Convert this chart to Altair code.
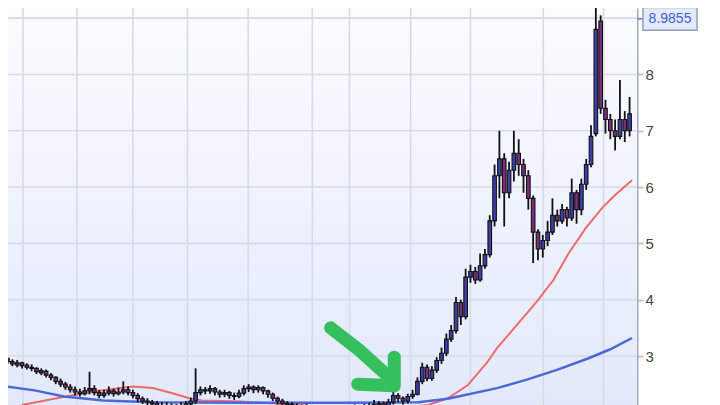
import altair as alt
import pandas as pd

# ---------------- data ----------------
opens = [2.95, 2.90, 2.84, 2.88, 2.84, 2.80, 2.78, 2.70, 2.73, 2.66,
         2.62, 2.55, 2.50, 2.45, 2.40, 2.36, 2.33, 2.38, 2.42, 2.35,
         2.30, 2.34, 2.38, 2.33, 2.36, 2.40, 2.35, 2.30, 2.24, 2.20,
         2.18, 2.15, 2.12, 2.10, 2.12, 2.10, 2.08, 2.12, 2.15, 2.20,
         2.35, 2.40, 2.38, 2.42, 2.36, 2.32, 2.35, 2.30, 2.28, 2.34,
         2.42, 2.45, 2.40, 2.44, 2.38, 2.32, 2.25, 2.20, 2.16, 2.14,
         2.12, 2.10, 2.08, 2.10, 2.06, 2.08, 2.05, 2.07, 2.04, 2.06,
         2.05, 2.08, 2.06, 2.09, 2.07, 2.10, 2.12, 2.14, 2.15, 2.12,
         2.18, 2.30, 2.25, 2.20, 2.28, 2.32, 2.55, 2.80, 2.60, 2.75,
         2.92, 3.05, 3.30, 3.45, 3.95, 3.70, 4.40, 4.50, 4.35, 4.60,
         4.80, 5.40, 6.20, 6.50, 5.90, 6.30, 6.60, 6.40, 6.20, 5.80,
         5.20, 4.90, 5.05, 5.20, 5.50, 5.40, 5.60, 5.45, 5.90, 5.60,
         6.05, 6.40, 6.95, 8.95, 7.40, 7.20, 7.00, 6.90, 7.20, 7.00]
closes = [2.90, 2.86, 2.88, 2.83, 2.80, 2.78, 2.72, 2.74, 2.66, 2.62,
          2.55, 2.50, 2.45, 2.40, 2.36, 2.33, 2.38, 2.42, 2.35, 2.30,
          2.34, 2.38, 2.33, 2.36, 2.40, 2.35, 2.30, 2.24, 2.20, 2.18,
          2.15, 2.12, 2.10, 2.12, 2.10, 2.08, 2.12, 2.15, 2.20, 2.35,
          2.40, 2.38, 2.42, 2.36, 2.32, 2.35, 2.30, 2.28, 2.34, 2.42,
          2.45, 2.40, 2.44, 2.38, 2.32, 2.25, 2.20, 2.16, 2.14, 2.12,
          2.10, 2.08, 2.10, 2.06, 2.08, 2.05, 2.07, 2.04, 2.06, 2.05,
          2.08, 2.06, 2.09, 2.07, 2.10, 2.12, 2.14, 2.15, 2.12, 2.18,
          2.30, 2.25, 2.20, 2.28, 2.32, 2.55, 2.80, 2.60, 2.75, 2.92,
          3.05, 3.30, 3.45, 3.95, 3.70, 4.40, 4.50, 4.35, 4.60, 4.80,
          5.40, 6.20, 6.50, 5.90, 6.30, 6.60, 6.40, 6.20, 5.80, 5.20,
          4.90, 5.05, 5.20, 5.50, 5.40, 5.60, 5.45, 5.90, 5.60, 6.05,
          6.40, 6.90, 8.80, 7.40, 7.20, 7.00, 6.90, 7.20, 7.00, 7.30]
highs = [2.98, 2.94, 2.93, 2.90, 2.87, 2.85, 2.80, 2.78, 2.76, 2.70,
         2.64, 2.60, 2.54, 2.50, 2.46, 2.42, 2.45, 2.72, 2.48, 2.40,
         2.40, 2.46, 2.42, 2.44, 2.55, 2.46, 2.40, 2.34, 2.28, 2.25,
         2.22, 2.20, 2.18, 2.18, 2.16, 2.15, 2.18, 2.20, 2.26, 2.78,
         2.46, 2.45, 2.48, 2.45, 2.40, 2.40, 2.38, 2.35, 2.40, 2.48,
         2.50, 2.48, 2.48, 2.46, 2.40, 2.35, 2.28, 2.24, 2.20, 2.18,
         2.16, 2.14, 2.15, 2.13, 2.12, 2.11, 2.12, 2.10, 2.10, 2.11,
         2.12, 2.12, 2.14, 2.13, 2.15, 2.17, 2.22, 2.20, 2.19, 2.24,
         2.45, 2.34, 2.28, 2.33, 2.40, 2.62, 2.88, 2.85, 2.82, 2.98,
         3.15, 3.40, 3.55, 4.05, 4.00, 4.55, 4.62, 4.58, 4.82, 4.90,
         5.50, 6.40, 7.00, 6.60, 6.45, 7.00, 6.85, 6.50, 6.30, 5.85,
         5.25, 5.15, 5.40, 5.80, 5.60, 5.70, 5.65, 6.15, 5.95, 6.15,
         6.50, 7.10, 9.35, 9.05, 7.55, 7.30, 7.20, 7.90, 7.35, 7.60]
lows = [2.86, 2.82, 2.80, 2.78, 2.76, 2.73, 2.68, 2.66, 2.62, 2.57,
        2.50, 2.45, 2.40, 2.35, 2.30, 2.28, 2.30, 2.32, 2.30, 2.25,
        2.26, 2.30, 2.28, 2.30, 2.32, 2.30, 2.25, 2.18, 2.15, 2.12,
        2.10, 2.06, 2.04, 2.05, 2.04, 2.02, 2.04, 2.08, 2.10, 2.15,
        2.30, 2.32, 2.33, 2.30, 2.26, 2.27, 2.24, 2.22, 2.25, 2.30,
        2.36, 2.34, 2.35, 2.32, 2.26, 2.20, 2.14, 2.10, 2.08, 2.06,
        2.04, 2.02, 2.03, 2.00, 2.00, 1.98, 2.00, 1.98, 1.99, 2.00,
        2.01, 2.00, 2.02, 2.02, 2.03, 2.05, 2.07, 2.08, 2.06, 2.08,
        2.14, 2.18, 2.14, 2.16, 2.24, 2.30, 2.50, 2.55, 2.56, 2.70,
        2.86, 3.00, 3.25, 3.40, 3.55, 3.65, 4.30, 4.28, 4.32, 4.55,
        4.75, 5.30, 5.80, 5.30, 5.80, 6.10, 6.20, 5.90, 5.60, 4.65,
        4.70, 4.75, 4.95, 5.15, 5.30, 5.35, 5.30, 5.40, 5.35, 5.50,
        5.95, 6.35, 6.90, 7.30, 6.95, 6.85, 6.65, 6.85, 6.80, 6.90]

# moving averages (sampled points, bar-index units)
red_ma_x = [2.97, 13.2, 19.9, 26.0, 30.1, 34.2, 37.7, 40.3, 48.5, 54.6, 64.8,
            81.1, 87.3, 91.3, 95.4, 99.5, 101.5, 105.6, 109.7, 113.2, 116.4,
            119.9, 123.4, 126.0, 129.5]
red_ma_y = [2.13, 2.30, 2.39, 2.46, 2.43, 2.34, 2.25, 2.21, 2.19, 2.16, 2.10,
            2.08, 2.13, 2.25, 2.48, 2.89, 3.14, 3.55, 3.96, 4.35, 4.83,
            5.27, 5.64, 5.86, 6.12]
blue_ma_x = [-0.5, 5.6, 11.7, 19.9, 30.1, 50.5, 70.9, 85.2, 91.3, 101.5,
             107.7, 113.8, 120.5, 125.0, 129.5]
blue_ma_y = [2.46, 2.39, 2.28, 2.21, 2.18, 2.17, 2.17, 2.18, 2.24, 2.43,
             2.58, 2.75, 2.96, 3.12, 3.32]

# period separators (vertical grid) and price grid levels
vgrid_pos = [3.2, 14.4, 26.0, 37.3, 49.9, 63.2, 70.9, 83.6, 96.0, 111.1, 123.6]
price_levels = [3, 4, 5, 6, 7, 8, 9]

# hand-drawn green arrow annotation
arrow_seg = ["shaft", "shaft", "shaft", "head", "head", "head"]
arrow_x = [67.0, 73.0, 78.9, 72.6, 80.2, 80.2]
arrow_y = [3.50, 3.10, 2.64, 2.50, 2.47, 2.98]

last_label_value = [8.9855]
last_label_text = ["8.9855"]

# ---------------- chart ----------------
W, H = 629, 397
xs = alt.Scale(domain=[1.13, 129.5], nice=False, zero=False)
ys = alt.Scale(domain=[2.13, 9.18], nice=False, zero=False)

df = pd.DataFrame({"i": list(range(len(closes))), "o": opens, "c": closes,
                   "h": highs, "l": lows})
df["dir"] = ["up" if c >= o else "down" for o, c in zip(opens, closes)]

bg = alt.Chart(pd.DataFrame({"a": [0]})).mark_rect(
    fill=alt.Gradient(gradient="linear",
                      stops=[alt.GradientStop(color="#fbfcff", offset=0),
                             alt.GradientStop(color="#e2e9fa", offset=1)],
                      x1=0, x2=0, y1=0, y2=1)
).encode(x=alt.value(0), x2=alt.value(W), y=alt.value(0), y2=alt.value(H))

hgrid = alt.Chart(pd.DataFrame({"v": price_levels})).mark_rule(
    color="#d7dbe7", strokeWidth=1.6
).encode(
    y=alt.Y("v:Q", scale=ys, title=None,
            axis=alt.Axis(orient="right", values=price_levels, grid=False,
                          format="d",
                          labelExpr="datum.value == 9 ? '' : datum.label",
                          domainColor="#a3adba", domainWidth=2,
                          tickColor="#c4c4c4", tickSize=6, tickWidth=2,
                          labelFontSize=15, labelColor="#444444",
                          labelFont="Liberation Sans", labelPadding=2))
)

vgrid = alt.Chart(pd.DataFrame({"g": vgrid_pos})).mark_rule(
    color="#d7dbe7", strokeWidth=1.6
).encode(x=alt.X("g:Q", scale=xs, axis=None))

red = alt.Chart(pd.DataFrame({"x": red_ma_x, "y": red_ma_y})).mark_line(
    color="#ee6b6b", strokeWidth=2, clip=True
).encode(x=alt.X("x:Q", scale=xs, axis=None), y=alt.Y("y:Q", scale=ys))

blue = alt.Chart(pd.DataFrame({"x": blue_ma_x, "y": blue_ma_y})).mark_line(
    color="#4a68dc", strokeWidth=2.5, clip=True
).encode(x=alt.X("x:Q", scale=xs, axis=None), y=alt.Y("y:Q", scale=ys))

wick = alt.Chart(df).mark_rule(color="#111111", strokeWidth=1.8, clip=True).encode(
    x=alt.X("i:Q", scale=xs, axis=None),
    y=alt.Y("l:Q", scale=ys), y2="h:Q")

body = alt.Chart(df).mark_bar(width=3.6, stroke="#111111", strokeWidth=1.1, clip=True).encode(
    x=alt.X("i:Q", scale=xs, axis=None),
    y=alt.Y("o:Q", scale=ys), y2="c:Q",
    fill=alt.Fill("dir:N", scale=alt.Scale(domain=["up", "down"],
                                           range=["#3b3fa6", "#7e2d7c"]),
                  legend=None))

arrow = alt.Chart(pd.DataFrame({"seg": arrow_seg, "ord": list(range(len(arrow_x))),
                                "x": arrow_x, "y": arrow_y})).mark_line(
    color="#36c05d", strokeWidth=13, strokeCap="round", strokeJoin="round"
).encode(x=alt.X("x:Q", scale=xs, axis=None), y=alt.Y("y:Q", scale=ys),
         detail="seg:N", order="ord:Q")

lbl_df = pd.DataFrame({"v": last_label_value, "t": last_label_text})
connector = alt.Chart(lbl_df).mark_rule(color="#6d8ad6", strokeWidth=1.5).encode(
    x=alt.value(W), x2=alt.value(W + 7), y=alt.Y("v:Q", scale=ys))
box = alt.Chart(lbl_df).mark_point(
    shape="M-1,-0.42H1V0.42H-1Z", size=2916, filled=True, fill="#e3eaf8",
    stroke="#8ca2c8", strokeWidth=1.5, opacity=1
).encode(x=alt.value(W + 33), y=alt.Y("v:Q", scale=ys))
box_text = alt.Chart(lbl_df).mark_text(
    color="#3d5fcf", fontSize=14, font="Liberation Sans"
).encode(x=alt.value(W + 33), y=alt.Y("v:Q", scale=ys), text="t:N")

chart = alt.layer(bg, vgrid, hgrid, red, blue, wick, body, arrow,
                  connector, box, box_text).properties(
    width=W, height=H, autosize="none",
    padding={"left": 0, "top": 0, "right": 75, "bottom": 0},
    background="white"
).configure_view(stroke=None)

chart.save("out.html", embed_options={"renderer": "svg", "actions": False})
